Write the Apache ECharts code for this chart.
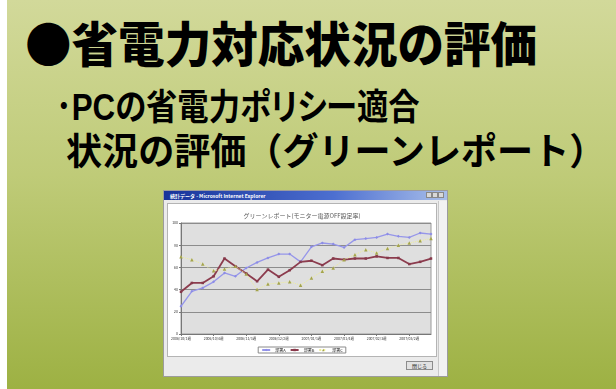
<!DOCTYPE html>
<html>
<head>
<meta charset="utf-8">
<script src="https://cdn.jsdelivr.net/npm/echarts@6/dist/echarts.min.js"></script>
<style>
  html, body { margin: 0; padding: 0; }
  body {
    width: 616px; height: 389px; position: relative; overflow: hidden;
    background: linear-gradient(to bottom, #d2d99a 0%, #bfcb78 45%, #9db143 100%);
    font-family: "Noto Sans CJK JP", sans-serif;
  }
  .strip { position: absolute; left: 0; top: 0; width: 7px; height: 389px; background: #fff; }
  .line1, .line2, .line3 { position: absolute; color: #000; white-space: nowrap; line-height: 1; transform-origin: 0 0; }
  .line1 { left: 25px; top: 17px; font-size: 48px; font-weight: 900; transform: scaleX(0.97); }
  .line2, .line3 { font-family: "Liberation Sans", "Noto Sans CJK JP", sans-serif; font-weight: 700; }
  .line2 { left: 56px; top: 90px; font-size: 36px; font-feature-settings: "palt"; transform: scaleX(0.87); }
  .line3 { left: 66px; top: 134px; font-size: 37px; transform: scaleX(0.975); }

  .win {
    position: absolute; left: 163px; top: 190px; width: 283px; height: 185px;
    background: #ebebeb; border: 1px solid #9c9c9c; filter: blur(0.3px);
  }
  .titlebar {
    position: absolute; left: 0; top: 0; width: 283px; height: 9px;
    background: linear-gradient(to right, #17339a, #4d6fd0 60%, #a9bfea);
    color: #fff; font-size: 5px; font-weight: 700; line-height: 9px; padding-left: 6px; box-sizing: border-box;
  }
  .tbtn { position: absolute; top: 1px; width: 6px; height: 6px; background: #d8d8d8; border: 1px solid #888; box-sizing: border-box; }
  .panel {
    position: absolute; left: 3px; top: 12px; width: 270px; height: 154px;
    background: #fff; border: 1px solid #b4b4b4; box-sizing: border-box;
  }
  .scroll { position: absolute; left: 274px; top: 10px; width: 9px; height: 175px; background: #f2f2f2; border-left: 1px solid #c8c8c8; box-sizing: border-box; }
  .closebtn {
    position: absolute; left: 242px; top: 170px; width: 27px; height: 9px;
    background: #e2e2e2; border: 1px solid #8c8c8c; box-sizing: border-box;
    font-size: 5px; line-height: 7px; text-align: center; color: #222;
  }
  #chart { position: absolute; left: 0; top: 0; width: 268px; height: 152px; }
</style>
</head>
<body>
<div class="strip"></div>
<div class="line1">●省電力対応状況の評価</div>
<div class="line2">･PCの省電力ポリシー適合</div>
<div class="line3">状況の評価（グリーンレポート）</div>

<div class="win">
  <div class="titlebar">統計データ - Microsoft Internet Explorer
    <div class="tbtn" style="left:262px"></div>
    <div class="tbtn" style="left:268px"></div>
    <div class="tbtn" style="left:274px"></div>
  </div>
  <div class="panel"><div id="chart"></div></div>
  <div class="scroll"></div>
  <div class="closebtn">閉じる</div>
</div>

<script>
const chartTitle = 'グリーンレポート(モニター電源OFF設定率)'
const weeks = [
  '2006/10/1週', '2006/10/2週', '2006/10/3週', '2006/10/4週', '2006/11/1週', '2006/11/2週',
  '2006/11/3週', '2006/11/4週', '2006/12/1週', '2006/12/2週', '2006/12/3週', '2006/12/4週',
  '2007/01/1週', '2007/01/2週', '2007/01/3週', '2007/01/4週', '2007/02/1週', '2007/02/2週',
  '2007/02/3週', '2007/02/4週', '2007/03/1週', '2007/03/2週', '2007/03/3週', '2007/03/4週'
]
const seriesNames = ['部署A', '部署B', '部署C']
const deptA = [25, 38.5, 41.5, 47, 55, 52, 59.5, 64.5, 68.5, 72, 72, 65, 78.5, 82, 81, 78, 85, 86, 87, 90, 88, 87, 91, 90]
const deptB = [38, 46, 46, 52, 68, 61, 54.5, 47.5, 58, 51.5, 57.5, 65, 66, 62, 68, 67, 68, 68, 70, 68.5, 68.5, 63, 65, 68]
const deptC = [69.5, 67, 63, 57, 58.5, 61, 54, 40, 45, 46, 47, 44, 50.5, 56.5, 59.5, 67, 71.5, 76, 73, 77, 80, 82, 84, 86]

const chart = echarts.init(document.getElementById('chart'), null, { renderer: 'canvas' })

chart.setOption({
  animation: false,
  backgroundColor: 'transparent',
  textStyle: { fontFamily: 'Noto Sans CJK JP' },
  title: {
    text: chartTitle,
    left: 'center',
    top: 4,
    textStyle: { fontSize: 6, fontWeight: 'normal', color: '#555' }
  },
  grid: {
    left: 13, right: 5, top: 19, bottom: 22,
    show: true, backgroundColor: '#dfdfdf', borderColor: '#9a9a9a', borderWidth: 1
  },
  legend: {
    data: seriesNames,
    bottom: 3,
    left: 'center',
    itemWidth: 8,
    itemHeight: 3,
    itemGap: 4,
    padding: [1, 3],
    borderColor: '#8a8a8a',
    borderWidth: 1,
    textStyle: { fontSize: 4, color: '#222' }
  },
  xAxis: {
    type: 'category',
    data: weeks,
    boundaryGap: false,
    axisLine: { lineStyle: { color: '#777' } },
    axisTick: { interval: 2, length: 2, lineStyle: { color: '#777' } },
    axisLabel: { interval: 2, fontSize: 3.5, color: '#333', margin: 3 }
  },
  yAxis: {
    type: 'value',
    min: 0,
    max: 100,
    interval: 20,
    axisLine: { show: true, lineStyle: { color: '#777' } },
    axisTick: { show: true, length: 2, lineStyle: { color: '#777' } },
    axisLabel: { fontSize: 3.5, color: '#333', margin: 3 },
    splitLine: { lineStyle: { color: '#8c8c8c', width: 1 } }
  },
  series: [
    {
      name: seriesNames[0],
      type: 'line',
      data: deptA,
      symbol: 'diamond',
      symbolSize: 3,
      color: '#8c8ce6',
      lineStyle: { width: 1.3, color: '#9696ea' }
    },
    {
      name: seriesNames[1],
      type: 'line',
      data: deptB,
      symbol: 'rect',
      symbolSize: 2.5,
      color: '#86394a',
      lineStyle: { width: 1.8, color: '#8c3c4e' }
    },
    {
      name: seriesNames[2],
      type: 'line',
      data: deptC,
      symbol: 'triangle',
      symbolSize: 3.5,
      color: '#a4a44c',
      lineStyle: { width: 1, type: 'dotted', color: '#eeee9a' }
    }
  ]
})
</script>
</body>
</html>
